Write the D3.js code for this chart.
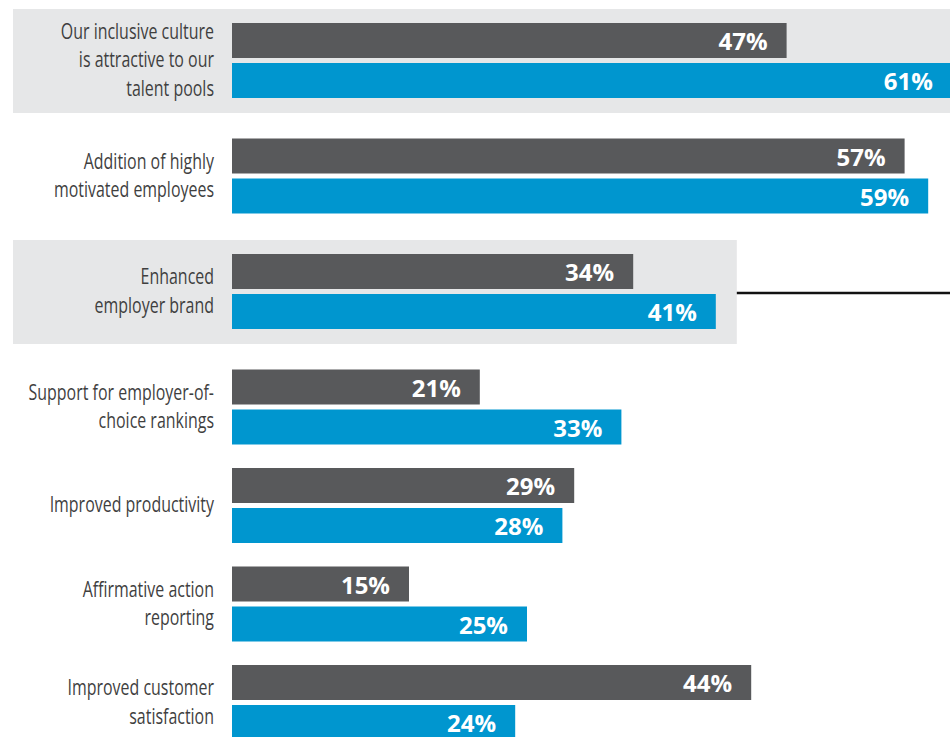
<!DOCTYPE html>
<html>
<head>
<meta charset="utf-8">
<script src="https://cdn.jsdelivr.net/npm/d3@7/dist/d3.min.js"></script>
<style>
  html, body { margin: 0; padding: 0; background: #fff; }
  svg { display: block; }
</style>
</head>
<body>
<svg id="chart" width="950" height="737"></svg>
<script>
// Benefit categories (label lines)
const categories = [
  ["Our inclusive culture", "is attractive to our", "talent pools"],
  ["Addition of highly", "motivated employees"],
  ["Enhanced", "employer brand"],
  ["Support for employer-of-", "choice rankings"],
  ["Improved productivity"],
  ["Affirmative action", "reporting"],
  ["Improved customer", "satisfaction"]
];
// First series (dark bars) and second series (blue bars), in percent
const seriesDark = [47, 57, 34, 21, 29, 15, 44];
const seriesBlue = [61, 59, 41, 33, 28, 25, 24];
// Rows that get a shaded panel behind them
const highlighted = [true, false, true, false, false, false, false];

const W = 950, H = 737;
const colors = { dark: "#58595b", blue: "#0096cf", panel: "#e6e7e8", label: "#3f3f3f" };
const barH = 35, barGap = 5, pairH = barH * 2 + barGap;
const step = 98.5, panelExtra = 17, firstTop = 23;
const labelRight = 214, labelSize = 21, lineH = 28.5, squeeze = 0.76;

const svg = d3.select("#chart");
svg.append("rect").attr("width", W).attr("height", H).attr("fill", "#fff");

const x = d3.scaleLinear().domain([0, 100]).range([232, 232 + 1180]);

// Row tops: shaded rows get extra breathing room on both sides
const tops = [];
categories.forEach((c, i) => {
  if (i === 0) tops.push(firstTop);
  else tops.push(tops[i - 1] + step + panelExtra * ((highlighted[i - 1] ? 1 : 0) + (highlighted[i] ? 1 : 0)));
});

const rows = categories.map((lines, i) => ({
  lines, dark: seriesDark[i], blue: seriesBlue[i], hl: highlighted[i], top: tops[i]
}));

// Shaded panels
rows.filter(r => r.hl).forEach(r => {
  const right = Math.min(W, x(Math.max(r.dark, r.blue)) + 21);
  svg.append("rect")
    .attr("x", 13).attr("y", r.top - 14)
    .attr("width", right - 13).attr("height", pairH + 29)
    .attr("fill", colors.panel);
});

// Callout leader from the third row's panel
{
  const r = rows[2];
  const right = x(Math.max(r.dark, r.blue)) + 21;
  const yMid = r.top - 14 + (pairH + 29) / 2 + 1;
  svg.append("line")
    .attr("x1", right).attr("x2", W)
    .attr("y1", yMid).attr("y2", yMid)
    .attr("stroke", "#111").attr("stroke-width", 2.4);
}

const g = svg.selectAll("g.row").data(rows).join("g").attr("class", "row");

const bars = [
  { key: "dark", off: 0, color: colors.dark },
  { key: "blue", off: barH + barGap, color: colors.blue }
];

bars.forEach(b => {
  g.append("rect")
    .attr("x", x(0))
    .attr("y", d => d.top + b.off)
    .attr("width", d => Math.min(W + 5, x(d[b.key])) - x(0))
    .attr("height", barH)
    .attr("fill", b.color);
  g.append("text")
    .attr("x", d => x(d[b.key]) - 19)
    .attr("y", d => d.top + b.off + 27)
    .attr("text-anchor", "end")
    .attr("font-family", "'Open Sans', sans-serif")
    .attr("font-weight", 700)
    .attr("font-size", 24)
    .attr("fill", "#fff")
    .text(d => d[b.key] + "%");
});

// Category labels, condensed horizontally and right-aligned
g.each(function (d) {
  const center = d.top + pairH / 2;
  const n = d.lines.length;
  const t = d3.select(this).append("g")
    .attr("transform", `translate(${labelRight},0) scale(${squeeze},1)`);
  d.lines.forEach((ln, j) => {
    t.append("text")
      .attr("x", 0)
      .attr("y", center + 7 + (j - (n - 1) / 2) * lineH)
      .attr("text-anchor", "end")
      .attr("font-family", "'Open Sans', sans-serif")
      .attr("font-weight", 400)
      .attr("font-size", labelSize)
      .attr("fill", colors.label)
      .text(ln);
  });
});
</script>
</body>
</html>
